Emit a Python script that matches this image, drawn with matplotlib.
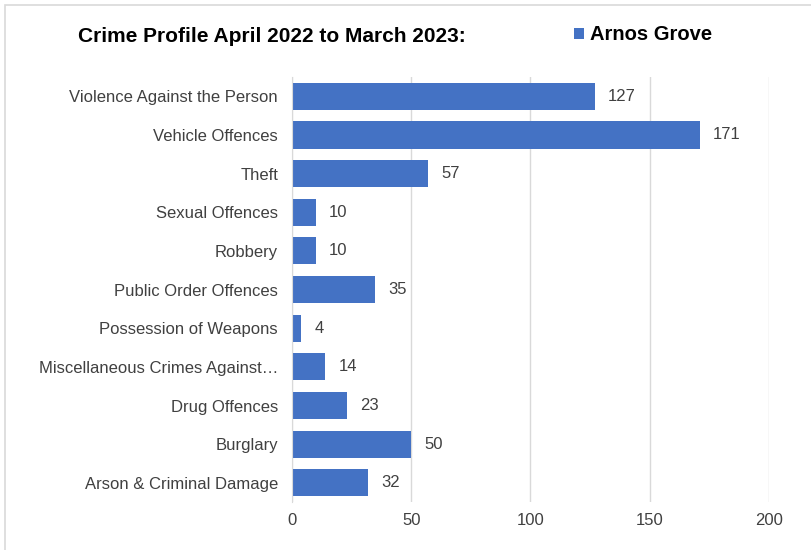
import matplotlib.pyplot as plt
from matplotlib.patches import Rectangle

categories = [
    "Violence Against the Person", "Vehicle Offences", "Theft", "Sexual Offences",
    "Robbery", "Public Order Offences", "Possession of Weapons",
    "Miscellaneous Crimes Against\u2026", "Drug Offences", "Burglary",
    "Arson & Criminal Damage",
]
values = [127, 171, 57, 10, 10, 35, 4, 14, 23, 50, 32]
x_ticks = [0, 50, 100, 150, 200]

plt.rcParams['font.family'] = ['Liberation Sans', 'DejaVu Sans']
bar_color = '#4472C4'
text_color = '#404040'

fig = plt.figure(figsize=(8.11, 5.5), dpi=100)
ax = fig.add_axes([0.360, 0.087, 0.588, 0.773])

y = list(range(len(categories)))
bars = ax.barh(y, values, height=0.7, color=bar_color, zorder=3, label="Arnos Grove")
ax.set_ylim(len(categories) - 0.5, -0.5)
ax.set_xlim(0, 200)
ax.set_xticks(x_ticks)
ax.set_yticks(y)
ax.set_yticklabels(categories)
ax.tick_params(axis='both', length=0, labelsize=12, colors=text_color)
ax.tick_params(axis='y', pad=10)
ax.tick_params(axis='x', pad=8)
ax.xaxis.grid(True, color='#D9D9D9', linewidth=1, zorder=0)
for s in ['top', 'right', 'bottom']:
    ax.spines[s].set_visible(False)
ax.spines['left'].set_color('#D9D9D9')
ax.spines['left'].set_zorder(4)

for b, v in zip(bars, values):
    ax.text(v + 5.5, b.get_y() + b.get_height() / 2, str(v), va='center', ha='left',
            fontsize=12, color=text_color)

fig.text(78 / 811, 1 - 36 / 550, "Crime Profile April 2022 to March 2023:", fontsize=15,
         fontweight='bold', va='center', ha='left', color='black')
fig.legend(loc='center left', bbox_to_anchor=(574 / 811, 1 - 35 / 550), frameon=False,
           prop={'size': 14.5, 'weight': 'bold'}, handlelength=0.5, handleheight=0.5,
           handletextpad=0.3, borderaxespad=0, borderpad=0)

fig.patches.append(Rectangle((5 / 811, -0.1), 1.2, (1 - 5 / 550) + 0.1, transform=fig.transFigure,
                             fill=False, edgecolor='#D9D9D9', linewidth=1.2))

fig.savefig('out.png', dpi=100)
